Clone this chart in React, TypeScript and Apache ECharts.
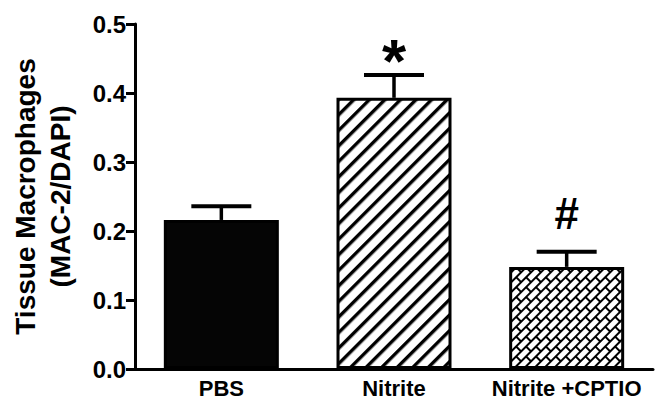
import React, { useEffect, useRef } from "react";
import * as echarts from "echarts";

const categories = ["PBS", "Nitrite", "Nitrite +CPTIO"];
const means = [0.216, 0.393, 0.148];
const sems = [0.02, 0.033, 0.022];
const marks = ["", "*", "#"];
const yTicks = [0, 0.1, 0.2, 0.3, 0.4, 0.5];

const FONT = "'Liberation Sans', Arial, Helvetica, sans-serif";

// Diagonal hatch tile (rotated by the pattern transform)
function stripeTile(): HTMLCanvasElement {
  const c = document.createElement("canvas");
  c.width = 10;
  c.height = 11;
  const ctx = c.getContext("2d")!;
  ctx.fillStyle = "#fff";
  ctx.fillRect(0, 0, c.width, c.height);
  ctx.fillStyle = "#000";
  ctx.fillRect(0, 0, c.width, 3.4);
  return c;
}

// Staggered brick tile (rotated by the pattern transform)
function brickTile(): HTMLCanvasElement {
  const L = 14;
  const h = 7;
  const c = document.createElement("canvas");
  c.width = L;
  c.height = 2 * h;
  const ctx = c.getContext("2d")!;
  ctx.fillStyle = "#fff";
  ctx.fillRect(0, 0, c.width, c.height);
  ctx.fillStyle = "#000";
  const t = 2;
  ctx.fillRect(0, 0, L, t);
  ctx.fillRect(0, h, L, t);
  ctx.fillRect(0, 0, t, h);
  ctx.fillRect(L / 2, h, t, h);
  return c;
}

export default function App() {
  const ref = useRef<HTMLDivElement>(null);

  useEffect(() => {
    if (!ref.current) return;
    const chart = echarts.init(ref.current, null, { renderer: "svg" });

    const fills: any[] = [
      "#050505",
      { image: stripeTile(), repeat: "repeat", rotation: -Math.PI / 4 },
      { image: brickTile(), repeat: "repeat", rotation: -Math.PI / 4 },
    ];

    const markOffset = [0, 15, 38];
    const markSize = [0, 62, 44];

    chart.setOption({
      animation: false,
      backgroundColor: "#fff",
      grid: {
        left: 135,
        right: 8,
        top: 24,
        bottom: 31,
        containLabel: false,
        outerBoundsMode: "none",
      },
      xAxis: {
        type: "category",
        data: categories,
        axisLine: { lineStyle: { color: "#000", width: 3 } },
        axisTick: { show: false },
        axisLabel: {
          interval: 0,
          color: "#000",
          fontFamily: FONT,
          fontWeight: "bold",
          fontSize: 22,
          lineHeight: 22,
          margin: 8,
        },
      },
      yAxis: {
        type: "value",
        min: yTicks[0],
        max: yTicks[yTicks.length - 1],
        interval: 0.1,
        name: "{a|Tissue Macrophages}\n{a|(MAC-2/DAPI)}",
        nameLocation: "middle",
        nameRotate: 90,
        nameGap: 57,
        nameTextStyle: {
          rich: {
            a: {
              fontFamily: FONT,
              fontWeight: "bold",
              fontSize: 28,
              color: "#000",
              lineHeight: 35,
              align: "center",
            },
          },
        },
        splitLine: { show: false },
        axisLine: { show: true, lineStyle: { color: "#000", width: 3 } },
        axisTick: { show: true, length: 9, lineStyle: { color: "#000", width: 3 } },
        axisLabel: {
          color: "#000",
          fontFamily: FONT,
          fontWeight: "bold",
          fontSize: 24,
          margin: 9,
          formatter: (v: number) => v.toFixed(1),
        },
      },
      series: [
        {
          type: "bar",
          barWidth: 115,
          data: means.map((m, i) => ({
            value: m,
            itemStyle: { color: fills[i] },
          })),
          itemStyle: { borderColor: "#000", borderWidth: 3 },
          z: 2,
        },
        {
          type: "custom",
          z: 3,
          data: means.map((m, i) => [i, m, m + sems[i]]),
          renderItem: (params: any, api: any) => {
            const i = api.value(0);
            const base = api.coord([i, api.value(1)]);
            const top = api.coord([i, api.value(2)]);
            const half = 30;
            const children: any[] = [
              {
                type: "line",
                shape: { x1: base[0], y1: base[1], x2: top[0], y2: top[1] },
                style: { stroke: "#000", lineWidth: 3.5 },
              },
              {
                type: "line",
                shape: { x1: top[0] - half, y1: top[1], x2: top[0] + half, y2: top[1] },
                style: { stroke: "#000", lineWidth: 4 },
              },
            ];
            const mk = marks[params.dataIndex];
            if (mk) {
              children.push({
                type: "text",
                x: top[0],
                y: top[1] - markOffset[params.dataIndex],
                style: {
                  text: mk,
                  fontFamily: FONT,
                  fontWeight: "bold",
                  fontSize: markSize[params.dataIndex],
                  fill: "#000",
                  align: "center",
                  verticalAlign: "middle",
                },
              });
            }
            return { type: "group", children };
          },
        },
      ],
    });

    return () => chart.dispose();
  }, []);

  return (
    <div
      ref={ref}
      style={{ position: "absolute", left: 0, top: 0, width: 661, height: 400 }}
    />
  );
}
